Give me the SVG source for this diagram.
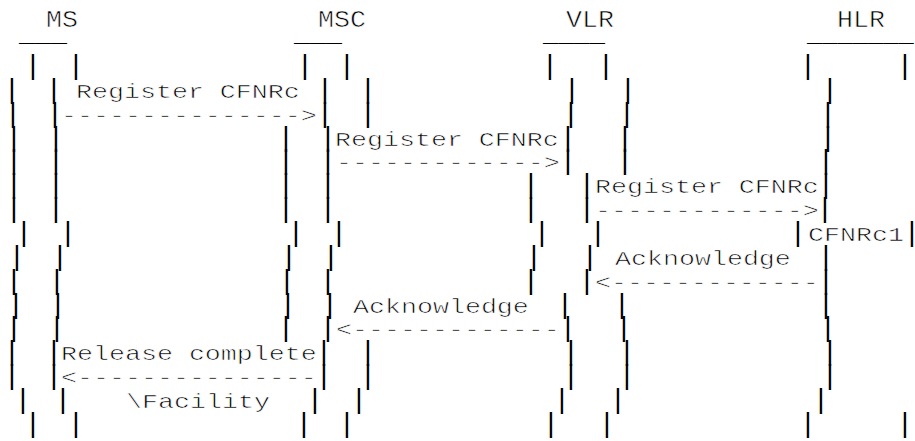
<svg xmlns="http://www.w3.org/2000/svg" width="915" height="441" viewBox="0 0 915 441">
<style>
.t { font-family: "Liberation Mono", "Courier New", monospace; font-size: 20px; fill: #000; stroke: #fff; stroke-width: 0.6px; }
.h { font-family: "Liberation Mono", "Courier New", monospace; font-size: 24px; fill: #000; stroke: #fff; stroke-width: 0.6px; }
.u { font-family: "Liberation Mono", "Courier New", monospace; font-size: 20px; fill: #000; }
.b { font-family: "Liberation Mono", "Courier New", monospace; font-size: 28px; text-anchor: middle; fill: #000; }
</style>
<rect width="915" height="441" fill="#fff"/>
<g id="ms">
<text class="h" transform="translate(46 27) scale(1.11 1)">MS</text>
<text class="u" transform="translate(19 41.5) scale(1.333 1)">___</text>
<text class="b" x="33" y="74">|</text><text class="b" x="76" y="74">|</text>
<text class="b" x="12" y="97.9">|</text><text class="b" x="54" y="97.9">|</text>
<text class="b" x="13" y="121.7">|</text><text class="b" x="55" y="121.7">|</text>
<text class="b" x="14" y="145.6">|</text><text class="b" x="56" y="145.6">|</text>
<text class="b" x="14" y="169.4">|</text><text class="b" x="56" y="169.4">|</text>
<text class="b" x="14" y="193.3">|</text><text class="b" x="56" y="193.3">|</text>
<text class="b" x="14" y="217.1">|</text><text class="b" x="56" y="217.1">|</text>
<text class="b" x="24" y="241">|</text><text class="b" x="68" y="241">|</text>
<text class="b" x="17" y="264.8">|</text><text class="b" x="60" y="264.8">|</text>
<text class="b" x="14" y="288.7">|</text><text class="b" x="57" y="288.7">|</text>
<text class="b" x="16" y="312.5">|</text><text class="b" x="58" y="312.5">|</text>
<text class="b" x="14" y="336.4">|</text><text class="b" x="57" y="336.4">|</text>
<text class="b" x="12" y="360.2">|</text><text class="b" x="54" y="360.2">|</text>
<text class="b" x="12" y="384">|</text><text class="b" x="54" y="384">|</text>
<text class="b" x="23" y="407.9">|</text><text class="b" x="63" y="407.9">|</text>
<text class="b" x="33" y="431.8">|</text><text class="b" x="76" y="431.8">|</text>
</g>
<g id="msc">
<text class="h" transform="translate(318 27) scale(1.11 1)">MSC</text>
<text class="u" transform="translate(294 41.5) scale(1.333 1)">___</text>
<text class="b" x="305" y="74">|</text><text class="b" x="347" y="74">|</text>
<text class="b" x="325" y="97.9">|</text><text class="b" x="368" y="97.9">|</text>
<text class="b" x="325" y="121.7">|</text><text class="b" x="368" y="121.7">|</text>
<text class="b" x="286" y="145.6">|</text><text class="b" x="328" y="145.6">|</text>
<text class="b" x="286" y="169.4">|</text><text class="b" x="328" y="169.4">|</text>
<text class="b" x="286" y="193.3">|</text><text class="b" x="328" y="193.3">|</text>
<text class="b" x="286" y="217.1">|</text><text class="b" x="328" y="217.1">|</text>
<text class="b" x="296" y="241">|</text><text class="b" x="339" y="241">|</text>
<text class="b" x="289" y="264.8">|</text><text class="b" x="331" y="264.8">|</text>
<text class="b" x="287" y="288.7">|</text><text class="b" x="328" y="288.7">|</text>
<text class="b" x="288" y="312.5">|</text><text class="b" x="330" y="312.5">|</text>
<text class="b" x="286" y="336.4">|</text><text class="b" x="328" y="336.4">|</text>
<text class="b" x="324" y="360.2">|</text><text class="b" x="368" y="360.2">|</text>
<text class="b" x="324" y="384">|</text><text class="b" x="368" y="384">|</text>
<text class="b" x="315" y="407.9">|</text><text class="b" x="359" y="407.9">|</text>
<text class="b" x="304" y="431.8">|</text><text class="b" x="347" y="431.8">|</text>
</g>
<g id="vlr">
<text class="h" transform="translate(566 27) scale(1.11 1)">VLR</text>
<text class="u" transform="translate(543 41.5) scale(1.29 1)">____</text>
<text class="b" x="550" y="74">|</text><text class="b" x="606" y="74">|</text>
<text class="b" x="572" y="97.9">|</text><text class="b" x="628" y="97.9">|</text>
<text class="b" x="571" y="121.7">|</text><text class="b" x="627" y="121.7">|</text>
<text class="b" x="568" y="145.6">|</text><text class="b" x="625" y="145.6">|</text>
<text class="b" x="568" y="169.4">|</text><text class="b" x="625" y="169.4">|</text>
<text class="b" x="531" y="193.3">|</text><text class="b" x="587" y="193.3">|</text>
<text class="b" x="531" y="217.1">|</text><text class="b" x="587" y="217.1">|</text>
<text class="b" x="542" y="241">|</text><text class="b" x="598" y="241">|</text>
<text class="b" x="534" y="264.8">|</text><text class="b" x="590" y="264.8">|</text>
<text class="b" x="531" y="288.7">|</text><text class="b" x="587" y="288.7">|</text>
<text class="b" x="565" y="312.5">|</text><text class="b" x="622" y="312.5">|</text>
<text class="b" x="568" y="336.4">|</text><text class="b" x="624" y="336.4">|</text>
<text class="b" x="571" y="360.2">|</text><text class="b" x="627" y="360.2">|</text>
<text class="b" x="571" y="384">|</text><text class="b" x="627" y="384">|</text>
<text class="b" x="562" y="407.9">|</text><text class="b" x="618" y="407.9">|</text>
<text class="b" x="551" y="431.8">|</text><text class="b" x="607" y="431.8">|</text>
</g>
<g id="hlr">
<text class="h" transform="translate(837 27) scale(1.11 1)">HLR</text>
<text class="u" transform="translate(807 41.5) scale(1.27 1)">_______</text>
<text class="b" x="808" y="74">|</text><text class="b" x="905" y="74">|</text>
<text class="b" x="830" y="97.9">|</text>
<text class="b" x="828" y="121.7">|</text>
<text class="b" x="828" y="145.6">|</text>
<text class="b" x="826" y="169.4">|</text>
<text class="b" x="826" y="193.3">|</text>
<text class="b" x="825" y="217.1">|</text>
<text class="b" x="798" y="241">|</text><text class="b" x="912" y="241">|</text>
<text class="t" transform="translate(808 241) scale(1.333 1)">CFNRc1</text>
<text class="b" x="826" y="264.8">|</text>
<text class="b" x="826" y="288.7">|</text>
<text class="b" x="826" y="312.5">|</text>
<text class="b" x="828" y="336.4">|</text>
<text class="b" x="830" y="360.2">|</text>
<text class="b" x="830" y="384">|</text>
<text class="b" x="821" y="407.9">|</text>
<text class="b" x="808" y="431.8">|</text><text class="b" x="905" y="431.8">|</text>
</g>
<g id="connectors">
<text class="t" transform="translate(76 97.9) scale(1.333 1)">Register CFNRc</text>
<text class="t" transform="translate(61 121.7) scale(1.333 1)">---------------&gt;</text>
<text class="t" transform="translate(335 145.6) scale(1.333 1)">Register CFNRc</text>
<text class="t" transform="translate(336 169.4) scale(1.333 1)">-------------&gt;</text>
<text class="t" transform="translate(595 193.3) scale(1.333 1)">Register CFNRc</text>
<text class="t" transform="translate(595 217.1) scale(1.333 1)">-------------&gt;</text>
<text class="t" transform="translate(615 264.8) scale(1.333 1)">Acknowledge</text>
<text class="t" transform="translate(595 288.7) scale(1.333 1)">&lt;-------------</text>
<text class="t" transform="translate(353 312.5) scale(1.333 1)">Acknowledge</text>
<text class="t" transform="translate(336 336.4) scale(1.333 1)">&lt;-------------</text>
<text class="t" transform="translate(61 360.2) scale(1.333 1)">Release complete</text>
<text class="t" transform="translate(61 384) scale(1.333 1)">&lt;---------------</text>
<text class="t" transform="translate(126 407.9) scale(1.333 1)">\Facility</text>
</g>
</svg>
